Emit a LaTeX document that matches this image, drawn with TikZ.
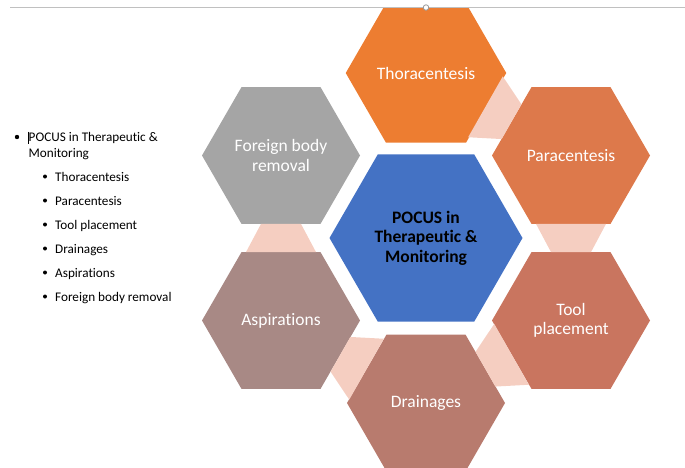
\documentclass[tikz,border=0pt]{standalone}
\usepackage{fontspec}
\setmainfont[Ligatures={NoCommon}]{Carlito}
\usetikzlibrary{shapes.geometric,calc}
\definecolor{cthor}{RGB}{237,125,49}
\definecolor{cpara}{RGB}{221,121,75}
\definecolor{ctool}{RGB}{201,117,95}
\definecolor{cdrain}{RGB}{184,123,110}
\definecolor{caspir}{RGB}{168,137,133}
\definecolor{cforeign}{RGB}{165,165,165}
\definecolor{ccenter}{RGB}{68,114,196}
\definecolor{cconn}{RGB}{245,206,193}
\definecolor{cline}{RGB}{192,192,192}
\newcommand\hexlink[2]{%
  \path ($(#1)!68.4pt!(#2)$) coordinate (ca) ($(#2)!68.4pt!(#1)$) coordinate (cb);
  \fill[conn] ($(ca)!35pt!90:(cb)$) -- ($(ca)!35pt!-90:(cb)$) -- ($(cb)!20pt!90:(ca)$) -- ($(cb)!20pt!-90:(ca)$) -- cycle;}
\begin{document}
\begin{tikzpicture}[x=1pt,y=-1pt,
  hexo/.style={regular polygon, regular polygon sides=6, minimum size=158pt, inner sep=0pt, outer sep=0pt,
     text=white, font=\fontsize{17.5}{19.5}\selectfont, align=center},
  hexc/.style={hexo, minimum size=193pt, fill=ccenter, text=black, font=\fontsize{17.5}{19.5}\selectfont\bfseries},
  conn/.style={fill=cconn},
  listmain/.style={anchor=base west, inner sep=0pt, font=\fontsize{13.2}{16}\selectfont, align=left},
  listsub/.style={anchor=base west, inner sep=0pt, font=\fontsize{13.2}{16}\selectfont},
  bul/.style={circle, fill=black, inner sep=0pt, minimum size=4.4pt}]
\useasboundingbox (0,0) rectangle (685,467);
% hexagons
\begin{scope}
  \clip (0,7) rectangle (685,467);
  \node[hexo, fill=cthor] (thor) at (426,73) {Thoracentesis};
\end{scope}
\node[hexo, fill=cpara] (para) at (571,155.5) {Paracentesis};
\node[hexo, fill=ctool] (tool) at (571,320.5) {Tool\\placement};
\node[hexo, fill=cdrain] (drain) at (426,403) {Drainages};
\node[hexo, fill=caspir] (aspir) at (281,320.5) {Aspirations};
\node[hexo, fill=cforeign] (foreign) at (281,155.5) {Foreign body\\removal};
\node[hexc] (center) at (426,238) {POCUS in\\Therapeutic \&\\Monitoring};
% connectors
\hexlink{thor}{para}
\hexlink{para}{tool}
\hexlink{tool}{drain}
\hexlink{drain}{aspir}
\hexlink{aspir}{foreign}
% top line with handle
\coordinate (lineL) at (10,7);
\coordinate (lineR) at (685,7);
\draw[cline, line width=1pt] (lineL) -- (lineR);
\node[circle, draw=gray!80, fill=white, line width=0.8pt, inner sep=0pt, minimum size=5.5pt] (handle) at (426,7.5) {};
% left list
\node[bul] (b0) at (17,137) {};
\node[listmain] (t0) at (28.5,157) {POCUS in Therapeutic \&\\Monitoring};
\coordinate (caretT) at (28.5,131.5);
\coordinate (caretB) at (28.5,143.5);
\draw[black, line width=0.6pt] (caretT) -- (caretB);
\foreach \i/\y/\txt in {1/181/Thoracentesis, 2/205/Paracentesis, 3/229/Tool placement, 4/253/Drainages, 5/277/Aspirations, 6/301/Foreign body removal}{
  \node[bul, minimum size=4pt] (b\i) at (45,\y-4.5) {};
  \node[listsub] (t\i) at (55,\y) {\txt};
}
\end{tikzpicture}
\end{document}
